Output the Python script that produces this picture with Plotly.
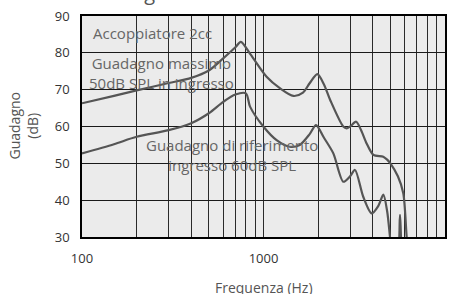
import plotly.graph_objects as go

# Data
freq_max = [100, 150, 200, 300, 400, 500, 600, 700, 750, 850, 1040, 1230, 1460, 1650, 1800, 1980,
            2150, 2330, 2750, 2870, 3000, 3240, 3450, 3700, 4030, 4570, 4800, 5000, 5500, 5890, 6150, 6300]
gain_max = [66.3, 68.3, 69.8, 71.8, 73.2, 75.2, 78.5, 81.5, 83.0, 79.5, 73.5, 70.4, 68.3, 69.2, 71.8, 74.2,
            71.5, 67.2, 60.0, 59.5, 60.0, 61.3, 59.0, 55.4, 52.3, 51.8, 51.0, 50.0, 46.5, 41.9, 30.0, 25.0]

freq_ref = [100, 150, 200, 300, 400, 500, 600, 700, 800, 843, 998, 1181, 1395, 1585, 1800, 1947,
            2150, 2425, 2754, 3000, 3192, 3540, 3945, 4300, 4573, 4800, 4977, 5100,
            5450, 5650, 5850, 6000]
gain_ref = [52.7, 55.2, 57.2, 59.0, 60.9, 63.6, 66.7, 68.7, 69.0, 65.4, 60.0, 56.3, 54.5, 55.0, 58.0, 60.4,
            57.0, 52.7, 45.0, 46.5, 48.2, 41.0, 36.4, 38.5, 41.5, 37.0, 30.0, 25.0,
            25.0, 36.0, 25.0, 25.0]

x_tickvals = [100, 200, 300, 400, 500, 600, 700, 800, 900,
              1000, 2000, 3000, 4000, 5000, 6000, 7000, 8000, 9000, 10000]
x_ticktext = ["100", "", "", "", "", "", "", "", "",
              "1000", "", "", "", "", "", "", "", "", "10000"]
y_tickvals = [30, 40, 50, 60, 70, 80, 90]

title_text = "Guadagno massimo e di riferimento"
x_title = "Frequenza (Hz)"
y_title = "Guadagno<br>(dB)"
label_coupler = "Accoppiatore 2cc"
label_max = "Guadagno massimo<br>50dB SPL in ingresso"
label_ref = "Guadagno di riferimento<br>ingresso 60dB SPL"

line_color = "#555555"
text_color = "#666666"
font_family = "Open Sans, Lato, sans-serif"

fig = go.Figure()
fig.add_trace(go.Scatter(x=freq_max, y=gain_max, mode="lines",
                         line=dict(color=line_color, width=2.2, shape="spline", smoothing=0.8),
                         showlegend=False, hoverinfo="skip"))
fig.add_trace(go.Scatter(x=freq_ref, y=gain_ref, mode="lines",
                         line=dict(color=line_color, width=2.2, shape="spline", smoothing=0.8),
                         showlegend=False, hoverinfo="skip"))

fig.update_layout(
    width=463, height=294,
    margin=dict(l=82, r=18, t=16, b=57, autoexpand=False),
    paper_bgcolor="white",
    plot_bgcolor="#ebebeb",
    font=dict(family=font_family, color="#333333", size=13),
    xaxis=dict(type="log", range=[2, 4], tickvals=x_tickvals, ticktext=x_ticktext,
               showgrid=True, gridcolor="#2a2a2a", gridwidth=1.3,
               showline=True, linecolor="#000000", linewidth=1.5, mirror=True,
               ticks="", ticklabelstandoff=9, automargin=False, zeroline=False),
    yaxis=dict(range=[30, 90], tickvals=y_tickvals,
               showgrid=True, gridcolor="#1a1a1a", gridwidth=1.3,
               showline=True, linecolor="#000000", linewidth=1.5, mirror=True,
               ticks="", ticklabelstandoff=8, automargin=False, zeroline=False),
)

fig.add_annotation(text=title_text, xref="paper", yref="paper", x=0.466, y=1.0,
                   yanchor="bottom", yshift=8, showarrow=False,
                   font=dict(size=20, color="#555555"))
fig.add_annotation(text=x_title, xref="paper", yref="paper", x=0.5, y=0,
                   yanchor="middle", yshift=-50, showarrow=False,
                   font=dict(size=14, color="#555555"))
fig.add_annotation(text=y_title, xref="paper", yref="paper", x=0, y=0.5,
                   xanchor="center", yanchor="middle", xshift=-59, yshift=1, textangle=-90,
                   showarrow=False, font=dict(size=14, color="#555555"))
fig.add_annotation(text=label_coupler, xref="paper", yref="paper", x=0.025, y=0.925,
                   xanchor="left", yanchor="middle", showarrow=False,
                   font=dict(size=15, color=text_color))
fig.add_annotation(text=label_max, xref="paper", yref="paper", x=0.218, y=0.74,
                   xanchor="center", yanchor="middle", showarrow=False,
                   font=dict(size=15, color=text_color))
fig.add_annotation(text=label_ref, xref="paper", yref="paper", x=0.413, y=0.37,
                   xanchor="center", yanchor="middle", showarrow=False,
                   font=dict(size=15, color=text_color))

fig.write_html("out.html", config={"displayModeBar": False},
               post_script="document.body.style.margin='0';")
